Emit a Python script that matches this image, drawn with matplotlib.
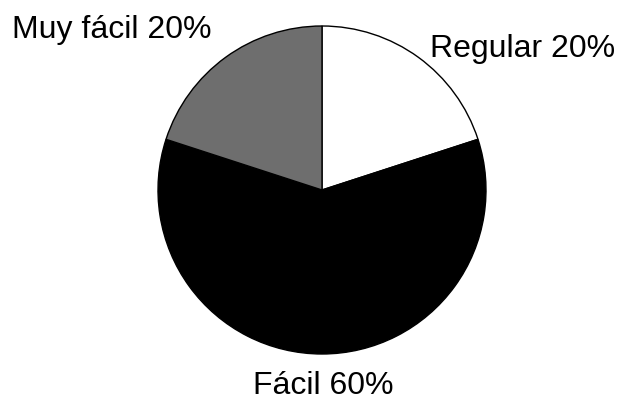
import matplotlib
matplotlib.use("Agg")
import matplotlib.pyplot as plt

categories = ["Regular", "Fácil", "Muy fácil"]
values = [20, 60, 20]
colors = ["#ffffff", "#000000", "#6e6e6e"]

W, H = 620, 406
fig = plt.figure(figsize=(W / 100, H / 100), dpi=100)
ax = fig.add_axes([0, 0, 1, 1])

cx, cy, r = 322, H - 191, 164
ax.pie(values, colors=colors, startangle=90, counterclock=False,
       center=(cx, cy), radius=r, frame=True,
       wedgeprops=dict(edgecolor="black", linewidth=1.0))
ax.set_xlim(0, W)
ax.set_ylim(0, H)
ax.set_aspect("equal")
ax.axis("off")

font = dict(family="Liberation Sans", fontsize=23, color="black")
labels = [f"{c} {v}%" for c, v in zip(categories, values)]
ax.text(430, H - 57, labels[0], ha="left", va="baseline", **font)
ax.text(323, H - 394, labels[1], ha="center", va="baseline", **font)
ax.text(12, H - 38, labels[2], ha="left", va="baseline", **font)

fig.savefig("out.png", dpi=100, facecolor="white")
